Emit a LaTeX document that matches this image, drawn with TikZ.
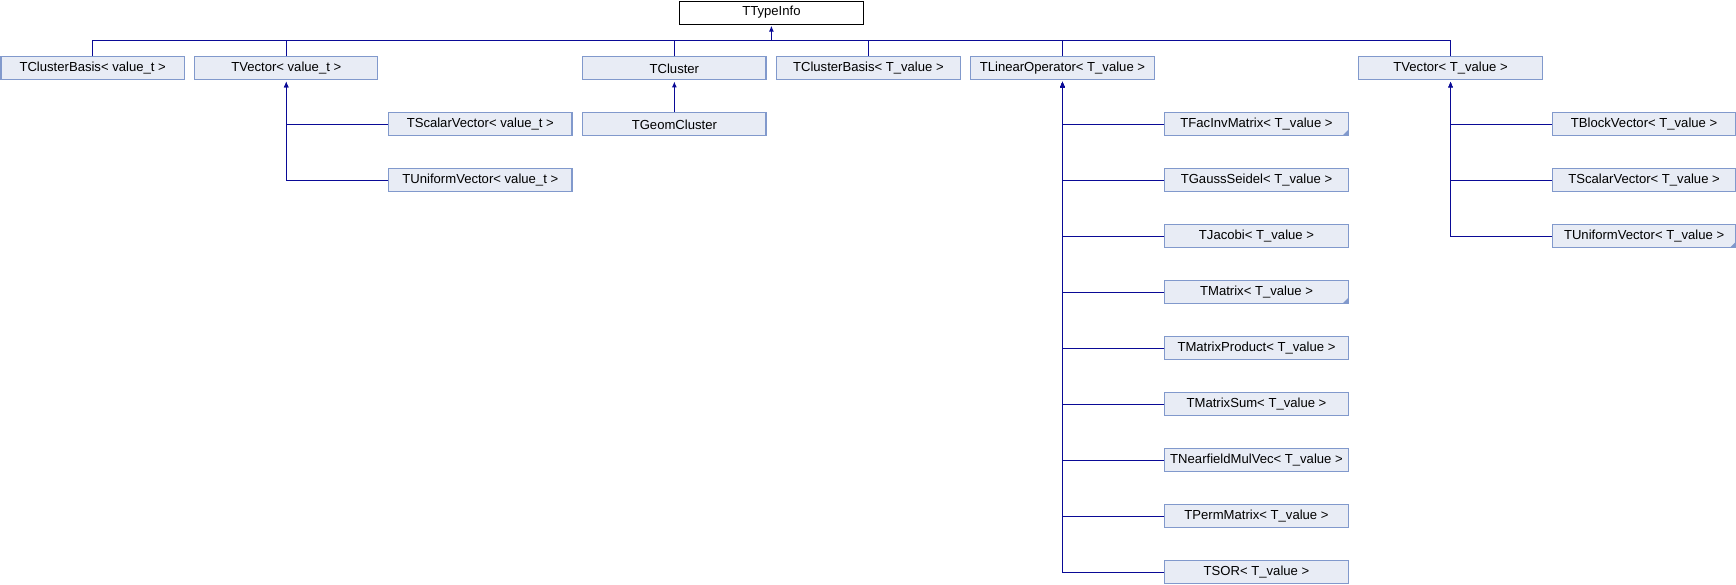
\documentclass[tikz,border=0pt]{standalone}
\usepackage{fontspec}
\setmainfont{Liberation Sans}
\usetikzlibrary{arrows.meta}
\definecolor{nodefill}{HTML}{E8ECF5}
\definecolor{nodeborder}{HTML}{8199CC}
\definecolor{edgecol}{HTML}{0A0A96}
\tikzset{
  cls/.style={draw=nodeborder, fill=nodefill, line width=1.1pt, anchor=north west,
    minimum width=183.3pt, minimum height=23pt, inner sep=0pt,
    font=\fontsize{13.1}{15}\selectfont},
  rootcls/.style={cls, draw=black, fill=white},
  edge/.style={draw=edgecol, line width=1.2pt},
  inh/.style={edge, -{Latex[length=6pt,width=5pt]}, shorten >=1pt},
}
\newcommand{\corner}[1]{\fill[nodeborder] ([xshift=-0.5pt,yshift=0.5pt]#1.south east) -- ++(-6,0) -- ++(6,-6) -- cycle;}
\begin{document}
\begin{tikzpicture}[x=1pt,y=-1pt]
\useasboundingbox[fill=white] (0,0) rectangle (1736,584);
\def\P{194.05}
% root
\node[rootcls] (root) at (679.2,0.5) {TTypeInfo};
% row 1
\node[cls] (cb1)  at (0.5+0*\P,56.3) {TClusterBasis< value\_t >};
\node[cls] (vec1) at (1*\P,56.3) {TVector< value\_t >};
\node[cls] (clu)  at (3*\P,56.3) {TCluster};
\node[cls] (cb2)  at (4*\P,56.3) {TClusterBasis< T\_value >};
\node[cls] (lop)  at (5*\P,56.3) {TLinearOperator< T\_value >};
\node[cls] (vec2) at (7*\P,56.3) {TVector< T\_value >};
% children of TVector<value_t>
\node[cls] (sv1) at (2*\P,112.3) {TScalarVector< value\_t >};
\node[cls] (uv1) at (2*\P,168.3) {TUniformVector< value\_t >};
% child of TCluster
\node[cls] (geo) at (3*\P,112.3) {TGeomCluster};
% children of TLinearOperator
\node[cls] (fim) at (6*\P,112.3) {TFacInvMatrix< T\_value >};
\node[cls] (gs)  at (6*\P,168.3) {TGaussSeidel< T\_value >};
\node[cls] (jac) at (6*\P,224.3) {TJacobi< T\_value >};
\node[cls] (mat) at (6*\P,280.3) {TMatrix< T\_value >};
\node[cls] (mp)  at (6*\P,336.3) {TMatrixProduct< T\_value >};
\node[cls] (ms)  at (6*\P,392.3) {TMatrixSum< T\_value >};
\node[cls] (nmv) at (6*\P,448.3) {TNearfieldMulVec< T\_value >};
\node[cls] (pm)  at (6*\P,504.3) {TPermMatrix< T\_value >};
\node[cls] (sor) at (6*\P,560.3) {TSOR< T\_value >};
% children of TVector<T_value>
\node[cls] (bv)  at (8*\P-0.5,112.3) {TBlockVector< T\_value >};
\node[cls] (sv2) at (8*\P-0.5,168.3) {TScalarVector< T\_value >};
\node[cls] (uv2) at (8*\P-0.5,224.3) {TUniformVector< T\_value >};
% corner marks
\corner{fim}
\corner{mat}
\corner{uv2}
% bus to root
\coordinate (bus) at (root.south |- 0,40.3);
\foreach \c in {cb1,vec1,clu,cb2,lop,vec2} {\draw[edge] (\c.north) |- (bus);}
\draw[inh] (bus) -- (root.south);
% TCluster -> TGeomCluster
\draw[inh] (geo.north) -- (clu.south);
% other children
\foreach \c in {sv1,uv1} {\draw[inh] (\c.west) -| (vec1.south);}
\foreach \c in {fim,gs,jac,mat,mp,ms,nmv,pm,sor} {\draw[inh] (\c.west) -| (lop.south);}
\foreach \c in {bv,sv2,uv2} {\draw[inh] (\c.west) -| (vec2.south);}
\end{tikzpicture}
\end{document}
